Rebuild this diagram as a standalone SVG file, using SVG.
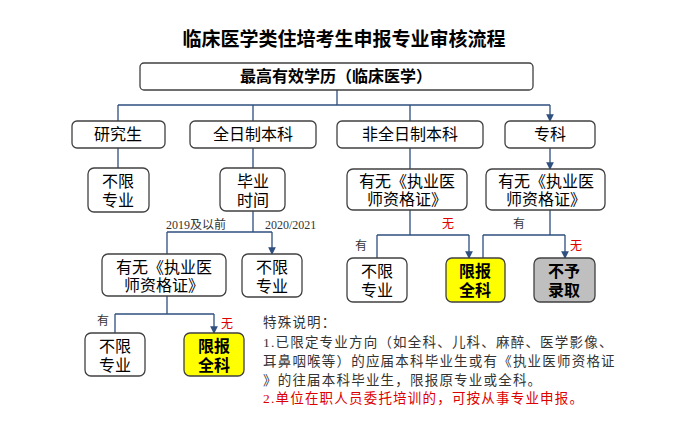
<svg xmlns="http://www.w3.org/2000/svg" width="688" height="423" viewBox="0 0 688 423">
<defs>
<style>
.b{fill:#fff;stroke:#404040;stroke-width:1.3}
.y{fill:#ffff00;stroke:#404040;stroke-width:1.3}
.g{fill:#bfbfbf;stroke:#404040;stroke-width:1.3}
.t{font-family:"Liberation Sans","Noto Sans CJK SC",sans-serif;font-size:16px;fill:#000;text-anchor:middle}
.tb{font-weight:bold}
.c{fill:none;stroke:#2f4f7f;stroke-width:1.3}
.a{marker-end:url(#ar)}
.l{font-family:"Liberation Serif","Noto Sans CJK SC",serif;font-size:12px;fill:#333}
.r{fill:#d00}
.n{font-family:"Liberation Serif","Noto Sans CJK SC",serif;font-size:13.5px;fill:#333;letter-spacing:1.2px}
</style>
<marker id="ar" viewBox="0 0 8 8" refX="7" refY="4" markerWidth="6" markerHeight="6" orient="auto"><path d="M0,0L8,4L0,8z" fill="#2f4f7f"/></marker>
</defs>
<rect width="688" height="423" fill="#fff"/>
<text x="344" y="46" class="t tb" font-size="19" style="font-size:19px">临床医学类住培考生申报专业审核流程</text>
<g id="connectors">
<path class="c" d="M337,90V105M118,105H550"/>
<path class="c a" d="M118,105V121M253,105V121M410,105V121M550,105V121"/>
<path class="c a" d="M118,148V168M253,148V168M410,148V169M550,148V169"/>
<path class="c" d="M253,211V232M167,232H272"/>
<path class="c a" d="M167,232V254M272,232V254"/>
<path class="c" d="M167,296V314M115,314H214"/>
<path class="c a" d="M115,314V333M214,314V333"/>
<path class="c" d="M410,210V235M377,235H469"/>
<path class="c a" d="M377,235V258M469,235V258"/>
<path class="c" d="M550,210V235M483,235H565"/>
<path class="c a" d="M483,235V258M565,235V258"/>
<text x="166" y="229" class="l">2019及以前</text>
<text x="265" y="229" class="l">2020/2021</text>
<text x="97" y="325" class="l">有</text>
<text x="221" y="328" class="l r">无</text>
<text x="355" y="250" class="l">有</text>
<text x="442" y="228" class="l r">无</text>
<text x="513" y="228" class="l">有</text>
<text x="570" y="250" class="l r">无</text>
</g>
<g id="top"><rect class="b" x="140" y="63" width="393" height="27" rx="4"/><text x="336" y="82" class="t tb">最高有效学历（临床医学）</text></g>
<g id="yjs"><rect class="b" x="72" y="121" width="93" height="27" rx="5"/><text x="118" y="140" class="t">研究生</text></g>
<g id="qrz"><rect class="b" x="190" y="121" width="126" height="27" rx="5"/><text x="253" y="140" class="t">全日制本科</text></g>
<g id="fqrz"><rect class="b" x="337" y="121" width="146" height="27" rx="5"/><text x="410" y="140" class="t">非全日制本科</text></g>
<g id="zk"><rect class="b" x="505" y="121" width="90" height="27" rx="5"/><text x="550" y="140" class="t">专科</text></g>
<g id="bx1"><rect class="b" x="88" y="168" width="61" height="44" rx="6"/><text x="118" y="187" class="t">不限</text><text x="118" y="206" class="t">专业</text></g>
<g id="bysj"><rect class="b" x="220" y="168" width="65" height="43" rx="6"/><text x="253" y="187" class="t">毕业</text><text x="253" y="206" class="t">时间</text></g>
<g id="yw2"><rect class="b" x="347" y="169" width="120" height="41" rx="6"/><text x="407" y="187" class="t">有无《执业医</text><text x="407" y="205" class="t">师资格证》</text></g>
<g id="yw3"><rect class="b" x="486" y="169" width="119" height="41" rx="6"/><text x="546" y="187" class="t">有无《执业医</text><text x="546" y="205" class="t">师资格证》</text></g>
<g id="yw1"><rect class="b" x="102" y="254" width="124" height="42" rx="6"/><text x="164" y="273" class="t">有无《执业医</text><text x="164" y="291" class="t">师资格证》</text></g>
<g id="bx2"><rect class="b" x="242" y="254" width="60" height="43" rx="6"/><text x="272" y="273" class="t">不限</text><text x="272" y="292" class="t">专业</text></g>
<g id="bx3"><rect class="b" x="85" y="333" width="60" height="43" rx="6"/><text x="115" y="352" class="t">不限</text><text x="115" y="371" class="t">专业</text></g>
<g id="qk1"><rect class="y" x="184" y="333" width="60" height="43" rx="6"/><text x="214" y="352" class="t tb">限报</text><text x="214" y="371" class="t tb">全科</text></g>
<g id="bx4"><rect class="b" x="347" y="258" width="60" height="44" rx="6"/><text x="377" y="277" class="t">不限</text><text x="377" y="296" class="t">专业</text></g>
<g id="qk2"><rect class="y" x="446" y="258" width="59" height="44" rx="6"/><text x="475" y="277" class="t tb">限报</text><text x="475" y="296" class="t tb">全科</text></g>
<g id="byl"><rect class="g" x="534" y="258" width="61" height="44" rx="6"/><text x="564" y="277" class="t tb">不予</text><text x="564" y="296" class="t tb">录取</text></g>
<g id="notes">
<text x="263" y="327" class="n">特殊说明：</text>
<text x="263" y="347" class="n">1.已限定专业方向（如全科、儿科、麻醉、医学影像、</text>
<text x="263" y="366" class="n">耳鼻咽喉等）的应届本科毕业生或有《执业医师资格证</text>
<text x="263" y="385" class="n">》的往届本科毕业生，限报原专业或全科。</text>
<text x="263" y="403" class="n" style="fill:#d00">2.单位在职人员委托培训的，可按从事专业申报。</text>
</g>
</svg>
